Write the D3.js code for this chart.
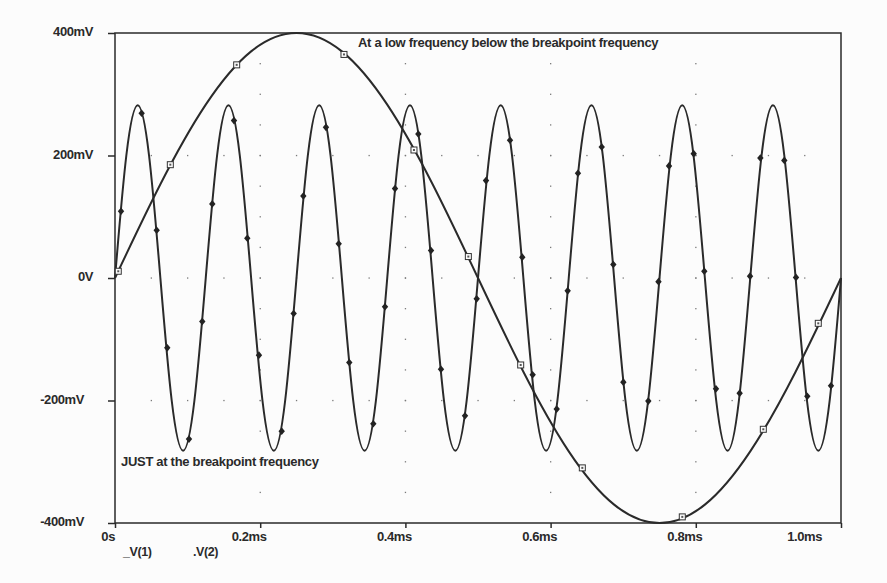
<!DOCTYPE html>
<html>
<head>
<meta charset="utf-8">
<script src="https://cdn.jsdelivr.net/npm/d3@7"></script>
<style>
  body { margin: 0; background: #fcfcfc; }
  text { font-family: "Liberation Sans", Arial, sans-serif; font-weight: bold; fill: #2a2a2a; }
</style>
</head>
<body>
<script>
// PSpice style transient plot, two runs overlaid

var yTicks = [400, 200, 0, -200, -400];
var yTickLabels = ["400mV", "200mV", "0V", "-200mV", "-400mV"];
var xTicks = [0, 0.2, 0.4, 0.6, 0.8, 1.0];
var xTickLabels = ["0s", "0.2ms", "0.4ms", "0.6ms", "0.8ms", "1.0ms"];

// low frequency run (ms, mV)
var lfTime = [0, 0.0625, 0.125, 0.1875, 0.25, 0.3125, 0.375, 0.4375, 0.5,
              0.5625, 0.625, 0.6875, 0.75, 0.8125, 0.875, 0.9375, 1.0];
var lfVolt = [0, 153, 283, 370, 400, 370, 283, 153, 0,
              -153, -283, -370, -400, -370, -283, -153, 0];
var lfMarkTime = [0.0045, 0.0762, 0.1676, 0.3154, 0.4118, 0.4867, 0.5588, 0.6437, 0.7814, 0.893, 0.9687];
var lfMarkVolt = [11, 185, 348, 365, 209, 35, -142, -310, -390, -247, -74];

// breakpoint frequency run (ms, mV)
var hfTime = [0, 0.0156, 0.0313, 0.0469, 0.0625, 0.0781, 0.0938, 0.1094,
              0.125, 0.1406, 0.1563, 0.1719, 0.1875, 0.2031, 0.2188, 0.2344,
              0.25, 0.2656, 0.2813, 0.2969, 0.3125, 0.3281, 0.3438, 0.3594,
              0.375, 0.3906, 0.4063, 0.4219, 0.4375, 0.4531, 0.4688, 0.4844,
              0.5, 0.5156, 0.5313, 0.5469, 0.5625, 0.5781, 0.5938, 0.6094,
              0.625, 0.6406, 0.6563, 0.6719, 0.6875, 0.7031, 0.7188, 0.7344,
              0.75, 0.7656, 0.7813, 0.7969, 0.8125, 0.8281, 0.8438, 0.8594,
              0.875, 0.8906, 0.9063, 0.9219, 0.9375, 0.9531, 0.9688, 0.9844, 1.0];
var hfVolt = [0, 200, 282, 200, 0, -200, -282, -200,
              0, 200, 282, 200, 0, -200, -282, -200,
              0, 200, 282, 200, 0, -200, -282, -200,
              0, 200, 282, 200, 0, -200, -282, -200,
              0, 200, 282, 200, 0, -200, -282, -200,
              0, 200, 282, 200, 0, -200, -282, -200,
              0, 200, 282, 200, 0, -200, -282, -200,
              0, 200, 282, 200, 0, -200, -282, -200, 0];
var hfMarkTime = [0.0083, 0.0367, 0.0574, 0.072, 0.1019, 0.1202, 0.134, 0.1639, 0.1822, 0.1983,
                  0.2296, 0.2461, 0.2594, 0.2906, 0.3081, 0.3227, 0.3558, 0.3719, 0.3857, 0.4178,
                  0.4353, 0.449, 0.4821, 0.4982, 0.511, 0.5441, 0.561, 0.5753, 0.6084, 0.6235,
                  0.6377, 0.6704, 0.6864, 0.7002, 0.7346, 0.7486, 0.7631, 0.7971, 0.8117, 0.8278,
                  0.8604, 0.8747, 0.8889, 0.9219, 0.938, 0.9536, 0.9862];
var hfMarkVolt = [109, 269, 78, -114, -263, -71, 121, 257, 65, -126,
                  -250, -58, 134, 246, 56, -138, -238, -47, 146, 235,
                  45, -149, -225, -34, 159, 225, 34, -158, -214, -21,
                  171, 214, 22, -170, -201, -6, 183, 203, 11, -181,
                  -188, 3, 196, 192, 1, -193, -176];

var svgWidth = 887, svgHeight = 583;
var plotLeft = 115, plotRight = 841, plotTop = 33, plotBottom = 523;
var ink = "#2a2a2a";

var svg = d3.select("body").append("svg")
    .attr("width", svgWidth)
    .attr("height", svgHeight);

svg.append("rect")
    .attr("width", svgWidth)
    .attr("height", svgHeight)
    .attr("fill", "#fcfcfc");

var x = d3.scaleLinear().domain([0, 1.0]).range([plotLeft, plotRight]);
var y = d3.scaleLinear().domain([-400, 400]).range([plotBottom, plotTop]);

// dotted grid: dots on the major lines, spaced at minor steps
var grid = svg.append("g").attr("fill", "#7a7a7a");
xTicks.slice(1, -1).forEach(function (t) {
    d3.range(-350, 351, 50).forEach(function (v) {
        grid.append("rect").attr("x", x(t) - 0.6).attr("y", y(v) - 0.6)
            .attr("width", 1.3).attr("height", 1.3);
    });
});
yTicks.slice(1, -1).forEach(function (v) {
    d3.range(1, 20).forEach(function (k) {
        grid.append("rect").attr("x", x(k * 0.05) - 0.6).attr("y", y(v) - 0.6)
            .attr("width", 1.3).attr("height", 1.3);
    });
});

// axes with outside ticks
var yAxis = svg.append("g")
    .attr("transform", "translate(" + plotLeft + ",0)")
    .call(d3.axisLeft(y).tickValues(yTicks).tickSize(7).tickFormat(""));
var xAxis = svg.append("g")
    .attr("transform", "translate(0," + plotBottom + ")")
    .call(d3.axisBottom(x).tickValues(xTicks).tickSize(5).tickFormat(""));
[yAxis, xAxis].forEach(function (a) {
    a.select(".domain").remove();
    a.selectAll("line").attr("stroke", ink).attr("stroke-width", 1.5);
});

svg.append("rect")
    .attr("x", plotLeft).attr("y", plotTop)
    .attr("width", plotRight - plotLeft).attr("height", plotBottom - plotTop)
    .attr("fill", "none")
    .attr("stroke", ink)
    .attr("stroke-width", 1.5);

// tick labels
svg.selectAll(".ylab")
    .data(yTicks)
    .enter()
    .append("text")
    .attr("class", "ylab")
    .attr("x", function (d) { return d < 0 ? 84 : 93; })
    .attr("y", function (d) { return y(d) + 3; })
    .attr("text-anchor", "end")
    .attr("font-size", 13)
    .attr("letter-spacing", -0.4)
    .text(function (d, i) { return yTickLabels[i]; });

svg.selectAll(".xlab")
    .data(xTicks)
    .enter()
    .append("text")
    .attr("class", "xlab")
    .attr("x", function (d, i) {
        if (i === 0) return x(d);
        if (i === xTicks.length - 1) return x(d) - 19;
        return x(d) - 11;
    })
    .attr("y", 541)
    .attr("text-anchor", function (d, i) { return i === 0 || i === xTicks.length - 1 ? "end" : "middle"; })
    .attr("font-size", 13)
    .attr("letter-spacing", -0.4)
    .text(function (d, i) { return xTickLabels[i]; });

// traces
var line = d3.line()
    .x(function (d) { return x(d[0]); })
    .y(function (d) { return y(d[1]); })
    .curve(d3.curveNatural);

var lfData = d3.zip(lfTime, lfVolt);
var hfData = d3.zip(hfTime, hfVolt);

svg.append("path")
    .datum(hfData)
    .attr("d", line)
    .attr("fill", "none")
    .attr("stroke", ink)
    .attr("stroke-width", 2);

svg.append("path")
    .datum(lfData)
    .attr("d", line)
    .attr("fill", "none")
    .attr("stroke", ink)
    .attr("stroke-width", 2);

// markers
svg.selectAll(".diamond")
    .data(d3.zip(hfMarkTime, hfMarkVolt))
    .enter()
    .append("path")
    .attr("class", "diamond")
    .attr("d", "M0,-3.8L3.2,0L0,3.8L-3.2,0Z")
    .attr("transform", function (d) { return "translate(" + x(d[0]) + "," + y(d[1]) + ")"; })
    .attr("fill", "#222");

var sq = svg.selectAll(".square")
    .data(d3.zip(lfMarkTime, lfMarkVolt))
    .enter()
    .append("g")
    .attr("class", "square")
    .attr("transform", function (d) { return "translate(" + x(d[0]) + "," + y(d[1]) + ")"; });
sq.append("rect")
    .attr("x", -3).attr("y", -3).attr("width", 6).attr("height", 6)
    .attr("fill", "#fcfcfc").attr("stroke", "#333").attr("stroke-width", 1);
sq.append("rect")
    .attr("x", -1).attr("y", -1).attr("width", 2).attr("height", 2)
    .attr("fill", "#555");

// annotations
svg.append("text")
    .attr("x", 358).attr("y", 47)
    .attr("font-size", 13)
    .attr("letter-spacing", -0.3)
    .text("At a low frequency below the breakpoint frequency");

svg.append("text")
    .attr("x", 121).attr("y", 466)
    .attr("font-size", 13)
    .attr("letter-spacing", -0.3)
    .text("JUST at the breakpoint frequency");

// legend, bottom edge cut off in the scan
svg.append("clipPath").attr("id", "legclip")
    .append("rect").attr("x", 0).attr("y", 540).attr("width", svgWidth).attr("height", 18.6);
var legend = svg.append("g").attr("clip-path", "url(#legclip)");
legend.append("text").attr("x", 123).attr("y", 556).attr("font-size", 12.5).attr("letter-spacing", -0.4).text("_V(1)");
legend.append("text").attr("x", 193).attr("y", 556).attr("font-size", 12.5).attr("letter-spacing", -0.4).text(".V(2)");
</script>
</body>
</html>
